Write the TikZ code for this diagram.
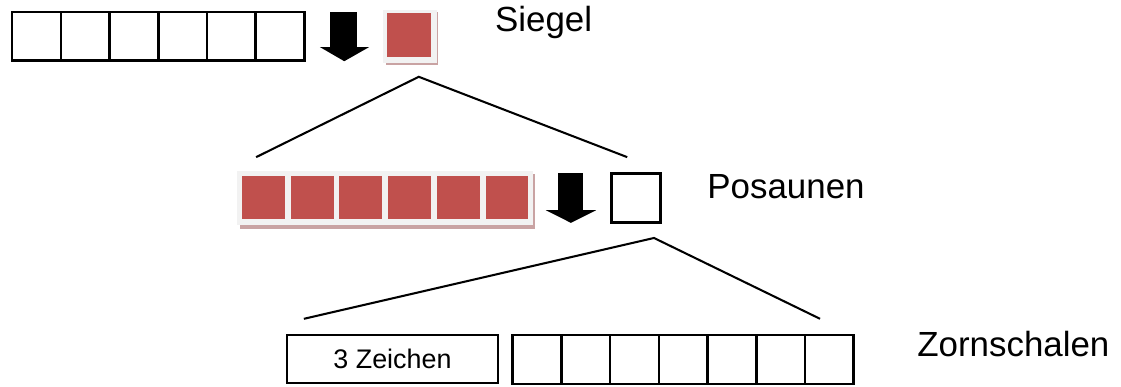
\documentclass[tikz,border=0pt]{standalone}
\usepackage{fontspec}
\setmainfont{Liberation Sans}
\definecolor{sealred}{HTML}{C0504D}
\definecolor{framegray}{HTML}{F2F2F2}
\definecolor{shadowred}{HTML}{C9A3A3}

\begin{document}
\begin{tikzpicture}[
  cell/.style={draw,line width=1.5pt,minimum size=1cm,inner sep=0pt,outer sep=0pt},
  redcell/.style={fill=sealred,minimum size=0.88cm,inner sep=0pt,outer sep=0pt},
  rowtitle/.style={anchor=base west,inner sep=0pt,font=\fontsize{20.4}{24}\selectfont},
  fan/.style={line width=1.2pt}
]
\useasboundingbox (0,0) rectangle (23.02,7.947);

% Siegel
\node[cell] (siegel1) at (0.75,7.2) {};
\node[cell] (siegel2) at (1.75,7.2) {};
\node[cell] (siegel3) at (2.75,7.2) {};
\node[cell] (siegel4) at (3.75,7.2) {};
\node[cell] (siegel5) at (4.75,7.2) {};
\node[cell] (siegel6) at (5.75,7.2) {};

\fill (6.78,7.70) -- (7.33,7.70) -- (7.33,6.98) -- (7.58,6.98) -- (7.07,6.69) -- (6.57,6.98) -- (6.78,6.98) -- cycle;

\fill[shadowred] (7.92,6.62) rectangle (9.00,7.70);
\fill[framegray] (7.86,6.66) rectangle (8.97,7.74);
\node[redcell,minimum size=0.9cm] (siegelOpen) at (8.40,7.22) {};

\node[rowtitle] (siegelTitle) at (10.16,7.29) {Siegel};

\coordinate (siegelTip) at (8.60,6.37);
\coordinate (posauneLeft) at (5.26,4.72);
\coordinate (posauneRight) at (12.88,4.72);
\draw[fan] (posauneLeft) -- (siegelTip) -- (posauneRight);

% Posaunen
\fill[shadowred] (4.93,3.25) rectangle (10.99,4.38);
\fill[framegray] (4.87,3.33) rectangle (10.95,4.44);
\node[redcell] (posaune1) at (5.41,3.89) {};
\node[redcell] (posaune2) at (6.41,3.89) {};
\node[redcell] (posaune3) at (7.41,3.89) {};
\node[redcell] (posaune4) at (8.41,3.89) {};
\node[redcell] (posaune5) at (9.41,3.89) {};
\node[redcell] (posaune6) at (10.41,3.89) {};

\fill (11.46,4.39) -- (11.97,4.39) -- (11.97,3.63) -- (12.24,3.63) -- (11.725,3.37) -- (11.21,3.63) -- (11.46,3.63) -- cycle;

\node[cell] (posauneOpen) at (13.06,3.88) {};

\node[rowtitle] (posauneTitle) at (14.52,3.88) {Posaunen};

\coordinate (posauneTip) at (13.43,3.06);
\coordinate (zornLeft) at (6.24,1.40);
\coordinate (zornRight) at (16.84,1.40);
\draw[fan] (zornLeft) -- (posauneTip) -- (zornRight);

% Zornschalen
\node[cell,minimum width=4.33cm,minimum height=0.99cm,font=\fontsize{15.7}{19}\selectfont] (zeichen) at (8.06,0.575) {3 Zeichen};

\node[cell] (zorn1) at (11.03,0.565) {};
\node[cell] (zorn2) at (12.03,0.565) {};
\node[cell] (zorn3) at (13.03,0.565) {};
\node[cell] (zorn4) at (14.03,0.565) {};
\node[cell] (zorn5) at (15.03,0.565) {};
\node[cell] (zorn6) at (16.03,0.565) {};
\node[cell] (zorn7) at (17.03,0.565) {};

\node[rowtitle] (zornTitle) at (18.83,0.62) {Zornschalen};
\end{tikzpicture}
\end{document}
